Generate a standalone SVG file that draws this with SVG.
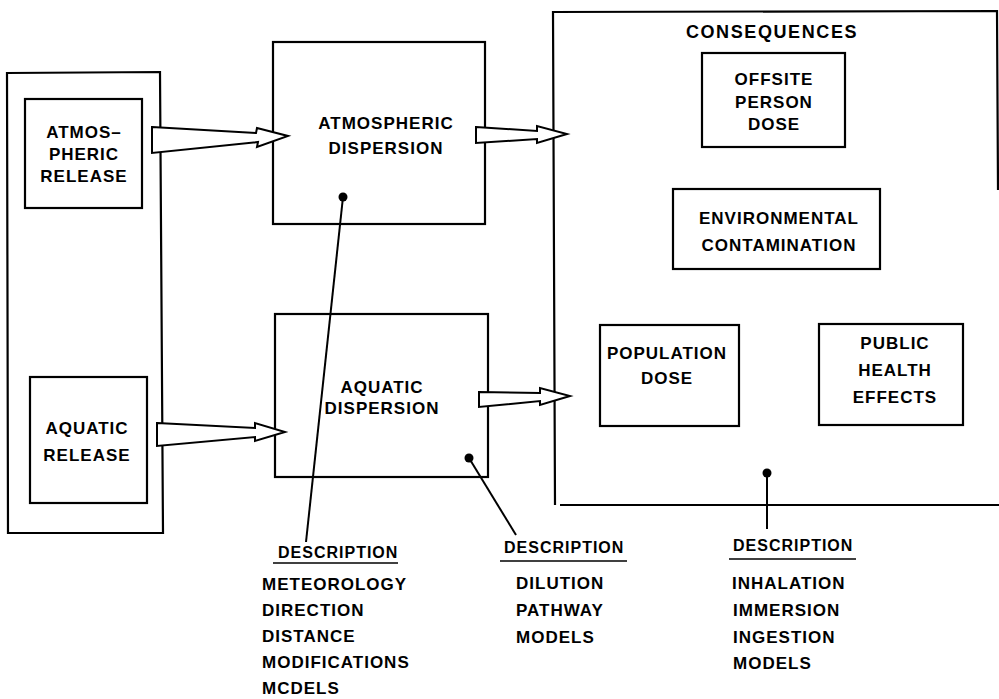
<svg xmlns="http://www.w3.org/2000/svg" width="999" height="699" viewBox="0 0 999 699">
<style>
.box{fill:none;stroke:#000;stroke-width:2.2;stroke-linejoin:miter}
.arr{fill:#fff;stroke:#000;stroke-width:2;stroke-linejoin:miter}
.ln{stroke:#000;stroke-width:2;fill:none}
.t{font-family:"Liberation Sans",Arial,sans-serif;font-weight:bold;font-size:17px;letter-spacing:1px;fill:#000}
.c{text-anchor:middle}
</style>
<rect width="999" height="699" fill="#fff"/>
<g id="release-container"><polygon class="box" points="7,73 160,72 163,533 8,533"/></g>
<g id="atmospheric-release">
<rect class="box" x="25" y="99" width="117" height="109"/>
<text class="t c" x="84" y="138">ATMOS–</text>
<text class="t c" x="84" y="160">PHERIC</text>
<text class="t c" x="84" y="182">RELEASE</text>
</g>
<g id="aquatic-release">
<rect class="box" x="30" y="377" width="117" height="126"/>
<text class="t c" x="87" y="434">AQUATIC</text>
<text class="t c" x="87" y="461">RELEASE</text>
</g>
<g id="atmospheric-dispersion">
<rect class="box" x="273" y="42" width="212" height="182"/>
<text class="t c" x="386" y="129">ATMOSPHERIC</text>
<text class="t c" x="386" y="154">DISPERSION</text>
</g>
<g id="aquatic-dispersion">
<rect class="box" x="275" y="314" width="213" height="163"/>
<text class="t c" x="382" y="393">AQUATIC</text>
<text class="t c" x="382" y="414">DISPERSION</text>
</g>
<g id="consequences">
<path class="box" d="M555,505 L553,12 L997,11 L998,190 M560,505 L999,505"/>
<text class="t c" x="772" y="38" style="font-size:18px;letter-spacing:1.6px">CONSEQUENCES</text>
</g>
<g id="offsite-person-dose">
<rect class="box" x="702" y="53" width="143" height="94"/>
<text class="t c" x="774" y="85">OFFSITE</text>
<text class="t c" x="774" y="108">PERSON</text>
<text class="t c" x="774" y="130">DOSE</text>
</g>
<g id="environmental-contamination">
<rect class="box" x="673" y="189" width="207" height="80"/>
<text class="t c" x="779" y="224">ENVIRONMENTAL</text>
<text class="t c" x="779" y="251">CONTAMINATION</text>
</g>
<g id="population-dose">
<rect class="box" x="600" y="325" width="139" height="101"/>
<text class="t c" x="667" y="359">POPULATION</text>
<text class="t c" x="667" y="384">DOSE</text>
</g>
<g id="public-health-effects">
<rect class="box" x="819" y="324" width="144" height="101"/>
<text class="t c" x="895" y="349">PUBLIC</text>
<text class="t c" x="895" y="376">HEALTH</text>
<text class="t c" x="895" y="403">EFFECTS</text>
</g>
<g id="connectors">
<polygon class="arr" points="152,127 256,133 257,128 288,136 257,147 258,142 152,153"/>
<polygon class="arr" points="476,127 537,131 537,126 567,134 537,143 537,139 476,143"/>
<polygon class="arr" points="157,423 255,428 255,423 285,432 255,441 255,437 157,446"/>
<polygon class="arr" points="479,392 540,393 540,388 570,396 540,405 540,401 479,407"/>
<circle cx="343" cy="197" r="4.5" fill="#000"/>
<line class="ln" x1="343" y1="197" x2="306" y2="542"/>
<circle cx="469" cy="458" r="4.5" fill="#000"/>
<line class="ln" x1="469" y1="458" x2="516" y2="535"/>
<circle cx="767" cy="473" r="4.5" fill="#000"/>
<line class="ln" x1="767" y1="473" x2="767" y2="529"/>
</g>
<g id="description-atmospheric">
<text class="t" x="278" y="558" style="font-size:16px">DESCRIPTION</text>
<line class="ln" x1="273" y1="563" x2="398" y2="563" style="stroke-width:1.5"/>
<text class="t" x="262" y="590">METEOROLOGY</text>
<text class="t" x="262" y="616">DIRECTION</text>
<text class="t" x="262" y="642">DISTANCE</text>
<text class="t" x="262" y="668">MODIFICATIONS</text>
<text class="t" x="262" y="694">MCDELS</text>
</g>
<g id="description-aquatic">
<text class="t" x="504" y="553" style="font-size:16px">DESCRIPTION</text>
<line class="ln" x1="500" y1="561" x2="627" y2="561" style="stroke-width:1.5"/>
<text class="t" x="516" y="589">DILUTION</text>
<text class="t" x="516" y="616">PATHWAY</text>
<text class="t" x="516" y="643">MODELS</text>
</g>
<g id="description-consequences">
<text class="t" x="733" y="551" style="font-size:16px">DESCRIPTION</text>
<line class="ln" x1="729" y1="559" x2="856" y2="559" style="stroke-width:1.5"/>
<text class="t" x="732" y="589">INHALATION</text>
<text class="t" x="733" y="616">IMMERSION</text>
<text class="t" x="733" y="643">INGESTION</text>
<text class="t" x="733" y="669">MODELS</text>
</g>
</svg>
